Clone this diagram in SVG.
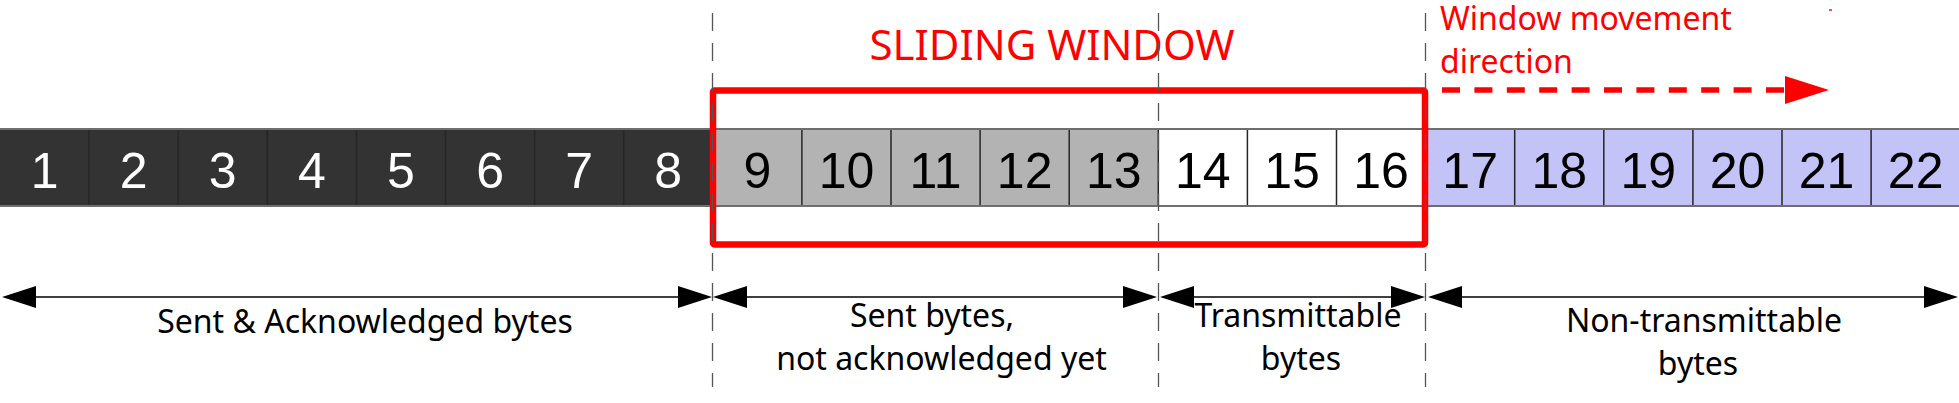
<svg xmlns="http://www.w3.org/2000/svg" width="1959" height="403" viewBox="0 0 1959 403">
<defs>
<style>
.num{font-family:"Liberation Sans",Arial,sans-serif;font-size:50px;text-anchor:middle}
.w{fill:#ffffff}
.k{fill:#000000}
.lbl{font-family:"Noto Sans","Open Sans",sans-serif;font-size:32px;fill:#000;text-anchor:middle}
.red{font-family:"Noto Sans","Open Sans",sans-serif;fill:#ff0000}
.div{stroke:#262626;stroke-width:1.5}
.vdash{stroke:#555;stroke-width:1.3;stroke-dasharray:18 12;fill:none}
.ah{fill:#000}
</style>
</defs>
<rect width="1959" height="403" fill="#fff"/>

<g id="cells">
<g id="c1"><rect x="0" y="129" width="89.1" height="77" fill="#333"/><text class="num w" x="44.55" y="187.5">1</text></g>
<g id="c2"><rect x="89.1" y="129" width="89.1" height="77" fill="#333"/><text class="num w" x="133.65" y="187.5">2</text></g>
<g id="c3"><rect x="178.2" y="129" width="89.1" height="77" fill="#333"/><text class="num w" x="222.75" y="187.5">3</text></g>
<g id="c4"><rect x="267.3" y="129" width="89.1" height="77" fill="#333"/><text class="num w" x="311.85" y="187.5">4</text></g>
<g id="c5"><rect x="356.4" y="129" width="89.1" height="77" fill="#333"/><text class="num w" x="400.95" y="187.5">5</text></g>
<g id="c6"><rect x="445.5" y="129" width="89.1" height="77" fill="#333"/><text class="num w" x="490.05" y="187.5">6</text></g>
<g id="c7"><rect x="534.6" y="129" width="89.1" height="77" fill="#333"/><text class="num w" x="579.15" y="187.5">7</text></g>
<g id="c8"><rect x="623.7" y="129" width="89.1" height="77" fill="#333"/><text class="num w" x="668.25" y="187.5">8</text></g>
<g id="c9"><rect x="712.8" y="129" width="89.1" height="77" fill="#b3b3b3"/><text class="num k" x="757.35" y="187.5">9</text></g>
<g id="c10"><rect x="801.9" y="129" width="89.1" height="77" fill="#b3b3b3"/><text class="num k" x="846.45" y="187.5">10</text></g>
<g id="c11"><rect x="891" y="129" width="89.1" height="77" fill="#b3b3b3"/><text class="num k" x="935.55" y="187.5">11</text></g>
<g id="c12"><rect x="980.1" y="129" width="89.1" height="77" fill="#b3b3b3"/><text class="num k" x="1024.65" y="187.5">12</text></g>
<g id="c13"><rect x="1069.2" y="129" width="89.1" height="77" fill="#b3b3b3"/><text class="num k" x="1113.75" y="187.5">13</text></g>
<g id="c14"><rect x="1158.3" y="129" width="89.1" height="77" fill="#fff"/><text class="num k" x="1202.85" y="187.5">14</text></g>
<g id="c15"><rect x="1247.4" y="129" width="89.1" height="77" fill="#fff"/><text class="num k" x="1291.95" y="187.5">15</text></g>
<g id="c16"><rect x="1336.5" y="129" width="89.1" height="77" fill="#fff"/><text class="num k" x="1381.05" y="187.5">16</text></g>
<g id="c17"><rect x="1425.6" y="129" width="89.1" height="77" fill="#c3c3f7"/><text class="num k" x="1470.15" y="187.5">17</text></g>
<g id="c18"><rect x="1514.7" y="129" width="89.1" height="77" fill="#c3c3f7"/><text class="num k" x="1559.25" y="187.5">18</text></g>
<g id="c19"><rect x="1603.8" y="129" width="89.1" height="77" fill="#c3c3f7"/><text class="num k" x="1648.35" y="187.5">19</text></g>
<g id="c20"><rect x="1692.9" y="129" width="89.1" height="77" fill="#c3c3f7"/><text class="num k" x="1737.45" y="187.5">20</text></g>
<g id="c21"><rect x="1782" y="129" width="89.1" height="77" fill="#c3c3f7"/><text class="num k" x="1826.55" y="187.5">21</text></g>
<g id="c22"><rect x="1871.1" y="129" width="89.1" height="77" fill="#c3c3f7"/><text class="num k" x="1915.65" y="187.5">22</text></g>
<path class="div" d="M89.1 129V206M178.2 129V206M267.3 129V206M356.4 129V206M445.5 129V206M534.6 129V206M623.7 129V206M712.8 129V206M801.9 129V206M891 129V206M980.1 129V206M1069.2 129V206M1158.3 129V206M1247.4 129V206M1336.5 129V206M1425.6 129V206M1514.7 129V206M1603.8 129V206M1692.9 129V206M1782 129V206M1871.1 129V206"/>
<path d="M0 129H1959M0 206H1959" stroke="#6e6e6e" stroke-width="2"/>
</g>

<g id="window">
<rect x="713" y="90.5" width="712" height="154" fill="none" stroke="#ff0000" stroke-width="6.5" rx="1.5"/>
<text class="red" x="1052" y="59.5" font-size="42" text-anchor="middle">SLIDING WINDOW</text>
</g>

<g id="direction">
<text class="red" x="1440" y="29.5" font-size="32">Window movement</text>
<text class="red" x="1440" y="72.5" font-size="32">direction</text>
<line x1="1442" y1="90" x2="1788" y2="90" stroke="#ff0000" stroke-width="5.5" stroke-dasharray="18 14.4"/>
<polygon points="1785,76 1829,90 1785,104" fill="#ff0000"/>
<rect x="1829" y="9.3" width="3" height="1.4" fill="#ff0000"/>
</g>

<g id="guides">
<line class="vdash" x1="712.5" y1="13" x2="712.5" y2="387"/>
<line class="vdash" x1="1158.5" y1="13" x2="1158.5" y2="387"/>
<line class="vdash" x1="1425.5" y1="13" x2="1425.5" y2="387"/>
</g>

<g id="connectors">
<line x1="20" y1="297" x2="695" y2="297" stroke="#000" stroke-width="1.5"/>
<polygon class="ah" points="2,297 36,286 36,308"/>
<polygon class="ah" points="712,297 678,286 678,308"/>
<line x1="730" y1="297" x2="1140" y2="297" stroke="#000" stroke-width="1.5"/>
<polygon class="ah" points="713,297 747,286 747,308"/>
<polygon class="ah" points="1157,297 1123,286 1123,308"/>
<line x1="1177" y1="297" x2="1410" y2="297" stroke="#000" stroke-width="1.5"/>
<polygon class="ah" points="1160,297 1194,286 1194,308"/>
<polygon class="ah" points="1425,297 1391,286 1391,308"/>
<line x1="1445" y1="297" x2="1940" y2="297" stroke="#000" stroke-width="1.5"/>
<polygon class="ah" points="1428,297 1462,286 1462,308"/>
<polygon class="ah" points="1958,297 1924,286 1924,308"/>
</g>

<g id="label-acked"><text class="lbl" x="365" y="333">Sent &amp; Acknowledged bytes</text></g>
<g id="label-sent"><text class="lbl" x="932" y="327">Sent bytes,</text><text class="lbl" x="941.5" y="370">not acknowledged yet</text></g>
<g id="label-transmittable"><text class="lbl" x="1298" y="327">Transmittable</text><text class="lbl" x="1301" y="370">bytes</text></g>
<g id="label-nontransmittable"><text class="lbl" x="1704" y="332">Non-transmittable</text><text class="lbl" x="1698" y="375">bytes</text></g>
</svg>
